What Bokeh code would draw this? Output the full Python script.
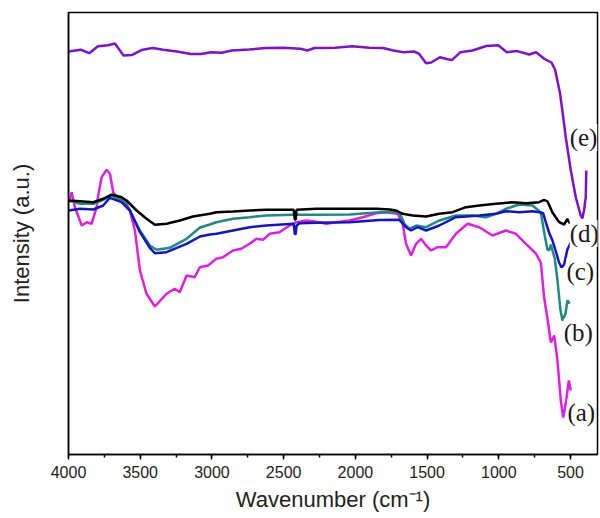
from bokeh.plotting import figure
from bokeh.models import Range1d, SingleIntervalTicker, FixedTicker, ColumnDataSource, LabelSet
from bokeh.embed import file_html
from bokeh.resources import INLINE

# ---------------- data (arbitrary intensity units) ----------------
wn_a = [4000, 3990, 3978, 3955, 3908, 3873, 3839, 3804, 3793, 3769, 3734, 3711, 3688, 3653, 3607,
        3572, 3537, 3502, 3456, 3398, 3317, 3259, 3224, 3177, 3120, 3085, 3027, 2969, 2923, 2853,
        2795, 2737, 2690, 2644, 2598, 2529, 2458, 2412, 2342, 2250, 2203, 2134, 2041, 1948, 1855,
        1786, 1705, 1670, 1647, 1612, 1577, 1542, 1507, 1472, 1427, 1368, 1299, 1218, 1136, 1044,
        951, 881, 811, 742, 707, 684, 661, 637, 614, 591, 568, 551, 530, 512, 498]
int_a = [252, 256, 262.3, 247.3, 229, 232.3, 230.7, 247.3, 259, 277.3, 284.7, 280.7, 262.3, 255.7, 254,
         244, 224, 184, 160.7, 148, 160.7, 165.7, 162.3, 179, 177.3, 187.3, 189, 195.7, 197.3, 204,
         205.7, 210.7, 215.7, 214.7, 220.7, 222.3, 229, 232.3, 234, 232.3, 230.7, 232.3, 234, 237.3, 241.3,
         242.3, 240.7, 230.7, 210.7, 199, 210.7, 215.7, 209, 204, 207.3, 207.3, 220.7, 230.7, 227.3, 219,
         224, 220.7, 210.7, 201, 192, 157, 136, 112, 119, 94, 54, 37, 54, 74, 64]

wn_b = [4000, 3920, 3827, 3758, 3699, 3619, 3572, 3502, 3433, 3386, 3294, 3177, 3083, 3015, 2969,
        2853, 2737, 2621, 2436, 2273, 2041, 1832, 1693, 1658, 1624, 1577, 1507, 1415, 1299, 1183,
        1090, 1020, 951, 858, 765, 707, 680, 661, 649, 637, 626, 610, 591, 570, 556, 535, 522, 505]
int_b = [254, 250.7, 250.7, 254.7, 259, 254, 244, 224, 209, 204.7, 206.7, 215.7, 227, 230, 232.3,
         235.7, 237.3, 239, 239.7, 239.7, 240, 242.3, 242.3, 230.7, 225.7, 229, 227.3, 234, 239, 239,
         237.3, 240.7, 245.7, 250, 249, 242, 219, 205, 204, 210, 204, 196, 174, 144, 134, 141, 154, 151]

wn_c = [4000, 3920, 3827, 3758, 3711, 3630, 3572, 3502, 3433, 3398, 3317, 3177, 3083, 3015, 2969,
        2853, 2737, 2621, 2430, 2422, 2416, 2410, 2389, 2273, 2041, 1832, 1693, 1647, 1612, 1566,
        1507, 1415, 1299, 1136, 1020, 951, 858, 765, 707, 690, 672, 650, 626, 600, 580, 562, 545, 522, 498]
int_c = [244, 245.7, 245, 249, 256.7, 252.3, 244, 222.3, 206.7, 201.3, 202.3, 210.7, 218, 220, 220.7,
         224, 227.3, 229, 230.7, 220.5, 220.5, 229, 231.3, 231.7, 232.3, 234.5, 234.7, 227.3, 224, 227.3,
         224, 229, 237.3, 239, 240.7, 243.3, 242.3, 243.3, 242, 241, 232, 222, 214, 202, 192, 187, 190, 205, 212]

wn_d = [4000, 3920, 3827, 3758, 3699, 3630, 3595, 3525, 3456, 3398, 3317, 3224, 3132, 3015, 2969,
        2853, 2737, 2621, 2430, 2422, 2416, 2410, 2273, 2041, 1855, 1760, 1716, 1670, 1601, 1507,
        1415, 1322, 1229, 1136, 1020, 905, 811, 719, 684, 660, 626, 579, 545, 522, 505]
int_d = [254, 253.3, 252.3, 255.7, 260, 257.3, 254, 244, 235.7, 229.7, 230.7, 234, 238, 240.7, 242.3,
         243, 244, 244.7, 244.7, 235, 235, 244.7, 245.7, 245.7, 245.7, 245, 244, 240.7, 239, 238,
         240.7, 242.3, 247.3, 249, 250.7, 252.3, 251.3, 252.3, 254.7, 253, 242, 232.3, 230, 235.5, 231]

wn_e = [4000, 3915, 3855, 3795, 3724, 3676, 3616, 3556, 3484, 3412, 3340, 3244, 3148, 3077, 3005,
        2933, 2861, 2741, 2621, 2502, 2382, 2334, 2286, 2142, 2022, 1903, 1807, 1735, 1663, 1591,
        1555, 1507, 1471, 1411, 1363, 1327, 1267, 1184, 1088, 1004, 944, 872, 788, 740, 681,
        633, 608, 573, 548, 533, 498, 463, 429, 418, 406, 394, 390]
int_e = [403, 404.8, 401.3, 408.2, 409.2, 411, 398.9, 399.6, 404.8, 406.5, 404.8, 403, 400.6, 400.6, 402.3,
         401.7, 404, 405, 406.5, 406.8, 405.8, 404, 406.5, 406.8, 408.2, 406.8, 406.5, 404, 402.3, 403,
         400.6, 391.3, 392, 397.2, 395.5, 394.4, 402.3, 404, 408.5, 409.2, 402.3, 403.4, 400, 402.3, 395.5,
         392, 385, 361, 334, 317, 284, 257, 239, 236, 244, 257, 284]

series_names = ["(a)", "(b)", "(c)", "(d)", "(e)"]
label_wn = [425, 446, 432, 404, 409]
label_int = [42, 122, 183, 221, 317]

# ---------------- figure ----------------
p = figure(width=600, height=518, x_range=Range1d(4000, 312), y_range=Range1d(0, 442),
           output_backend="svg", toolbar_location=None,
           min_border_left=68, min_border_right=3, min_border_top=12, min_border_bottom=64)
p.background_fill_color = "white"
p.border_fill_color = "white"
p.outline_line_color = "black"
p.outline_line_width = 1.5
p.xgrid.visible = False
p.ygrid.visible = False

colors = ["#E020E0", "#1E8A82", "#1414C4", "#000000", "#7A12D4"]
data = [(wn_a, int_a), (wn_b, int_b), (wn_c, int_c), (wn_d, int_d), (wn_e, int_e)]
for (xs, ys), c in zip(data, colors):
    p.line(xs, ys, line_color=c, line_width=2.5)

# x axis
xa = p.xaxis[0]
xa.ticker = SingleIntervalTicker(interval=500, num_minor_ticks=2)
xa.axis_line_width = 1.5
xa.axis_line_color = "black"
xa.major_tick_out = 5
xa.major_tick_in = 0
xa.minor_tick_out = 3
xa.minor_tick_in = 0
xa.major_tick_line_width = 1.5
xa.minor_tick_line_width = 1.5
xa.major_label_text_font = "Liberation Sans"
xa.major_label_text_font_size = "16px"
xa.major_label_text_color = "#222222"
xa.major_label_standoff = 6
xa.axis_label = "Wavenumber (cm\u207b\u00b9)"
xa.axis_label_text_font = "Liberation Sans"
xa.axis_label_text_font_size = "22px"
xa.axis_label_text_font_style = "normal"
xa.axis_label_text_color = "#222222"
xa.axis_label_standoff = 6

# y axis (no ticks)
ya = p.yaxis[0]
ya.ticker = FixedTicker(ticks=[])
ya.axis_line_width = 1.5
ya.axis_line_color = "black"
ya.major_tick_line_color = None
ya.minor_tick_line_color = None
ya.major_label_text_font_size = "0px"
ya.axis_label = "Intensity (a.u.)"
ya.axis_label_text_font = "Liberation Sans"
ya.axis_label_text_font_size = "22px"
ya.axis_label_text_font_style = "normal"
ya.axis_label_text_color = "#222222"
ya.axis_label_standoff = 35

src = ColumnDataSource(dict(x=label_wn, y=label_int, t=series_names))
labels = LabelSet(x="x", y="y", text="t", source=src, text_align="center", text_baseline="middle",
                  text_font="Liberation Serif", text_font_size="25px", text_color="#1a1a1a",
                  background_fill_color="white")
p.add_layout(labels)

open("out.html", "w").write(file_html(p, INLINE))
